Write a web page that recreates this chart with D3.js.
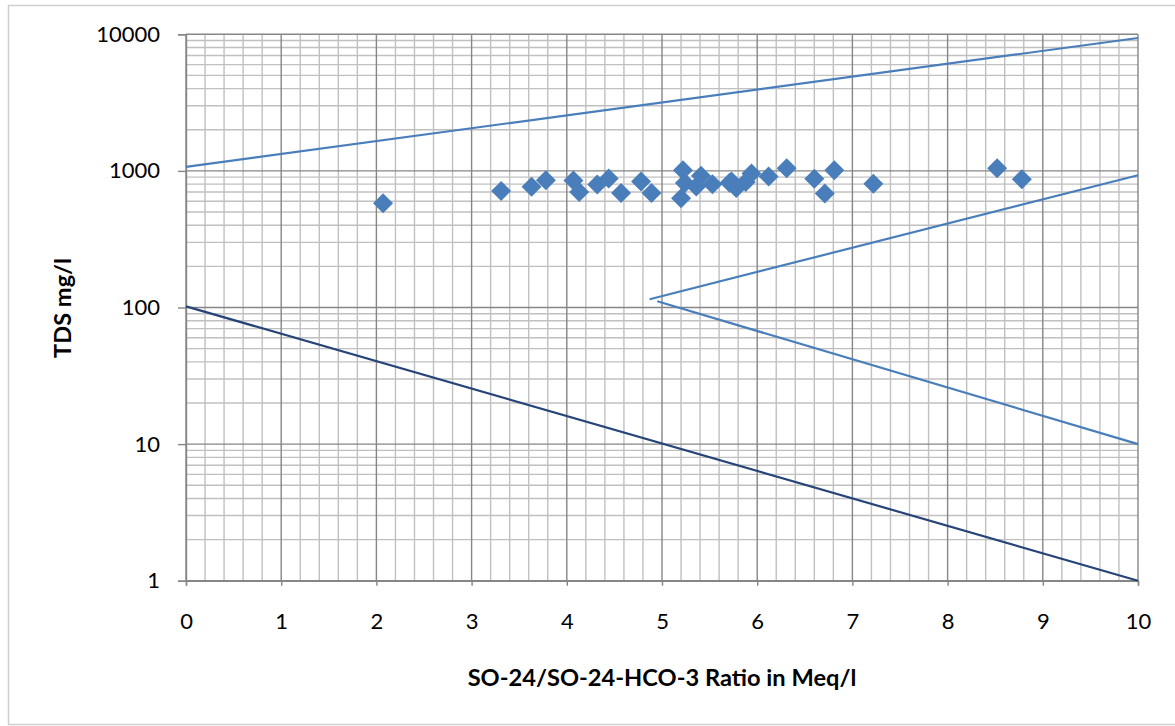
<!DOCTYPE html>
<html><head><meta charset="utf-8">
<script src="https://cdn.jsdelivr.net/npm/d3@7"></script>
<style>
body{margin:0;background:#fff;}
text{font-family:Lato,"Open Sans",sans-serif;fill:#000;}
</style></head>
<body><svg id="c" width="1175" height="726"></svg>
<script>
// Data
const ratioX = [2.07,3.31,3.63,3.78,4.07,4.13,4.32,4.44,4.57,4.78,4.89,5.20,5.22,5.24,5.36,5.41,5.53,5.71,5.73,5.78,5.88,5.94,6.12,6.31,6.60,6.71,6.81,7.22,8.52,8.78];
const tdsY   = [580,713,764,855,850,702,795,879,688,835,690,630,1010,815,770,920,800,820,835,750,830,957,910,1045,875,682,1010,805,1045,870];
const lineA = {x:[0,10], y:[1070,9400]};
const lineB = {x:[4.87,10], y:[115,930]};
const lineC = {x:[4.95,10], y:[111,10]};
const lineD = {x:[0,10], y:[102,1]};
const xTicks = [0,1,2,3,4,5,6,7,8,9,10];
const yTicks = [1,10,100,1000,10000];
const xTitle = "SO-24/SO-24-HCO-3 Ratio in Meq/l";
const yTitle = "TDS mg/l";

const svg = d3.select("#c");
const L=186, R=1138, T=34.3, B=580.7;
const x = d3.scaleLinear().domain([0,10]).range([L,R]);
const y = d3.scaleLog().domain([1,10000]).range([B,T]);

// outer border
svg.append("rect").attr("x",8.5).attr("y",5.5).attr("width",1180).attr("height",719)
  .attr("fill","none").attr("stroke","#d0d0d0").attr("stroke-width",1.5);

const g = svg.append("g");
// minor grid
const xMinor = d3.range(0,10.001,0.2).map(v=>+v.toFixed(2)).filter(v=>Math.abs(v-Math.round(v))>1e-6);
g.selectAll(".xm").data(xMinor).join("line")
  .attr("x1",d=>x(d)).attr("x2",d=>x(d)).attr("y1",T).attr("y2",B)
  .attr("stroke","#c0c0c0").attr("stroke-width",1.4);
const yMinor=[];
[1,10,100,1000].forEach(b=>{for(let k=2;k<=9;k++) yMinor.push(b*k);});
g.selectAll(".ym").data(yMinor).join("line")
  .attr("x1",L).attr("x2",R).attr("y1",d=>y(d)).attr("y2",d=>y(d))
  .attr("stroke","#c0c0c0").attr("stroke-width",1.4);
// major grid
g.selectAll(".xM").data(xTicks).join("line")
  .attr("x1",d=>x(d)).attr("x2",d=>x(d)).attr("y1",T).attr("y2",B)
  .attr("stroke","#868686").attr("stroke-width",1.4);
g.selectAll(".yM").data(yTicks).join("line")
  .attr("x1",L).attr("x2",R).attr("y1",d=>y(d)).attr("y2",d=>y(d))
  .attr("stroke","#868686").attr("stroke-width",1.4);

// axes
const xAxis = d3.axisBottom(x).tickValues(xTicks).tickSize(5).tickPadding(28).tickFormat(d3.format("d"));
const gx = svg.append("g").attr("transform",`translate(0,${B})`).call(xAxis);
gx.select(".domain").attr("stroke","#868686").attr("stroke-width",1.4);
gx.selectAll(".tick line").attr("stroke","#868686").attr("stroke-width",1.4);
gx.selectAll("text").attr("font-size",22).attr("fill","#000").style("font-family","Lato");

const yAxis = d3.axisLeft(y).tickValues(yTicks).tickSize(8).tickPadding(18).tickFormat(d3.format("d"));
const gy = svg.append("g").attr("transform",`translate(${L},0)`).call(yAxis);
gy.select(".domain").attr("stroke","#868686").attr("stroke-width",1.4);
gy.selectAll(".tick line").attr("stroke","#868686").attr("stroke-width",1.4);
gy.selectAll("text").attr("font-size",22).attr("fill","#000").style("font-family","Lato");

// lines
const lg = d3.line().x(d=>x(d[0])).y(d=>y(d[1]));
function drawLine(o,col){
  svg.append("path").datum(o.x.map((v,i)=>[v,o.y[i]])).attr("d",lg)
    .attr("fill","none").attr("stroke",col).attr("stroke-width",2.2);
}
drawLine(lineA,"#4a7ebb");
drawLine(lineB,"#4a7ebb");
drawLine(lineC,"#4a7ebb");
drawLine(lineD,"#264478");

// markers
svg.selectAll(".pt").data(ratioX.map((v,i)=>[v,tdsY[i]])).join("path")
  .attr("d", d3.symbol().type(d3.symbolSquare).size(200))
  .attr("transform",d=>`translate(${x(d[0])},${y(d[1])}) rotate(45)`)
  .attr("fill","#4a7ebb");

// titles
const xt = svg.append("text").attr("x",662).attr("y",686).attr("text-anchor","middle")
  .attr("font-size",21).attr("font-weight","bold").text(xTitle);
const yt = svg.append("text").attr("transform","translate(71,308) rotate(-90)").attr("text-anchor","middle")
  .attr("font-size",21).attr("font-weight","bold").text(yTitle);
function fit(t,w){const l=t.node().getComputedTextLength(); t.attr("font-size",21*w/l);}
fit(xt,389); fit(yt,100);
</script></body></html>
